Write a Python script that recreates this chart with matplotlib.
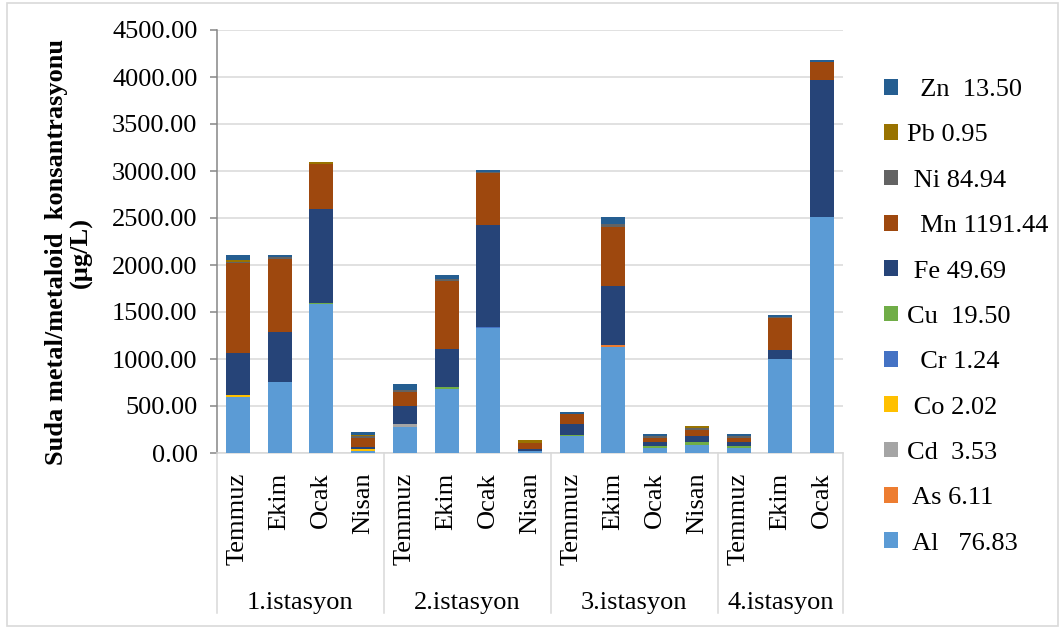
import matplotlib
matplotlib.use("Agg")
import matplotlib.pyplot as plt
import matplotlib.transforms as mtransforms
from matplotlib.patches import Rectangle, Patch
import numpy as np

# ---- data -------------------------------------------------------------
stations = ["1.istasyon", "2.istasyon", "3.istasyon", "4.istasyon"]
months = [
    ["Temmuz", "Ekim", "Ocak", "Nisan"],
    ["Temmuz", "Ekim", "Ocak", "Nisan"],
    ["Temmuz", "Ekim", "Ocak", "Nisan"],
    ["Temmuz", "Ekim", "Ocak"],
]

elements = ["Al", "As", "Cd", "Co", "Cr", "Cu", "Fe", "Mn", "Ni", "Pb", "Zn"]
legend_labels = [" Al   76.83", " As 6.11", "Cd  3.53", " Co 2.02", "  Cr 1.24",
                 "Cu  19.50", " Fe 49.69", "  Mn 1191.44", " Ni 84.94", "Pb 0.95",
                 "  Zn  13.50"]
colors = ["#5B9BD5", "#ED7D31", "#A5A5A5", "#FFC000", "#4472C4", "#70AD47",
          "#264478", "#9E480E", "#636363", "#997300", "#255E91"]

# concentrations (µg/L), one value per sampling (15 samplings)
Al = [599, 759, 1590, 20, 280, 678, 1327, 20, 180, 1124, 53, 88, 50, 1000, 2511]
As = [0, 0, 0, 0, 0, 0, 0, 0, 0, 20, 0, 0, 0, 0, 0]
Cd = [0, 0, 0, 5, 30, 0, 0, 5, 0, 0, 0, 0, 0, 0, 0]
Co = [20, 0, 0, 15, 0, 0, 0, 0, 0, 0, 0, 0, 0, 0, 0]
Cr = [0, 0, 0, 0, 0, 0, 15, 0, 0, 0, 0, 0, 0, 5, 0]
Cu = [0, 0, 5, 0, 0, 20, 0, 0, 15, 0, 25, 28, 25, 0, 0]
Fe = [442, 532, 1001, 22, 190, 405, 1084, 20, 110, 636, 39, 60, 40, 91, 1455]
Mn = [964, 770, 476, 100, 146, 727, 556, 65, 110, 628, 42, 64, 45, 344, 191]
Ni = [10, 20, 5, 20, 25, 20, 10, 0, 0, 25, 18, 25, 18, 10, 5]
Pb = [15, 5, 15, 5, 0, 0, 0, 28, 0, 0, 0, 25, 0, 0, 0]
Zn = [57, 21, 0, 40, 65, 44, 20, 0, 18, 81, 28, 0, 25, 16, 20]

series = [Al, As, Cd, Co, Cr, Cu, Fe, Mn, Ni, Pb, Zn]

# ---- figure -----------------------------------------------------------
W, H = 1063, 628
DPI = 100
SERIF = ["Liberation Serif", "DejaVu Serif"]
FS = 19
plt.rcParams["font.family"] = SERIF

fig = plt.figure(figsize=(W / DPI, H / DPI), dpi=DPI)

# axes box in pixel coordinates
ax_l, ax_r, ax_t, ax_b = 217, 843, 30, 453
ax = fig.add_axes([ax_l / W, 1 - ax_b / H, (ax_r - ax_l) / W, (ax_b - ax_t) / H])

month_labels = [m for grp in months for m in grp]
x = np.arange(len(month_labels))
bottom = np.zeros(len(x))
handles = []
for vals, col, lab in zip(series, colors, legend_labels):
    v = np.array(vals, dtype=float)
    ax.bar(x, v, width=0.575, bottom=bottom, color=col, linewidth=0,
           zorder=3, label=lab)
    bottom += v
    handles.append(Patch(facecolor=col, edgecolor="none", label=lab))

ax.set_xlim(-0.5, len(x) - 0.5)
ax.set_ylim(0, 4500)
ax.set_yticks(np.arange(0, 4501, 500))
ax.yaxis.set_major_formatter(matplotlib.ticker.FormatStrFormatter("%.2f"))
ax.grid(axis="y", color="#D9D9D9", linewidth=1.1, zorder=0)
ax.set_axisbelow(True)

for s in ["top", "right"]:
    ax.spines[s].set_visible(False)
ax.spines["left"].set_color("#868686")
ax.spines["left"].set_linewidth(1.1)
ax.spines["bottom"].set_color("#D9D9D9")
ax.spines["bottom"].set_linewidth(1.1)

ax.tick_params(axis="y", direction="out", length=5, width=1.1, color="#868686",
               labelsize=FS, pad=9, labelcolor="black")
ax.set_xticks(x)
ax.set_xticklabels(month_labels, rotation=90, fontsize=FS)
ax.tick_params(axis="x", length=0, pad=14)

# category group separators and station labels
trans = mtransforms.blended_transform_factory(ax.transData, ax.transAxes)
depth = -(613 - ax_b) / (ax_b - ax_t)
edges = [-0.5]
for grp in months:
    edges.append(edges[-1] + len(grp))
for e in edges:
    ax.plot([e, e], [0, depth], transform=trans, color="#D9D9D9", lw=1.1,
            clip_on=False, zorder=1)
lab_y = -(603 - ax_b) / (ax_b - ax_t)
for i, st in enumerate(stations):
    cx = (edges[i] + edges[i + 1]) / 2
    ax.text(cx, lab_y, st, transform=trans, ha="center", va="center", fontsize=FS)

# y-axis title
fig.text(69 / W, 1 - 252 / H, "Suda metal/metaloid  konsantrasyonu\n(µg/L)",
         rotation=90, ha="center", va="center", fontsize=FS, fontweight="bold",
         linespacing=1.1)

# legend, top entry first
leg = fig.legend(handles[::-1], [h.get_label() for h in handles[::-1]],
                 loc="upper left", bbox_to_anchor=(884 / W, 1 - 79 / H),
                 frameon=False, fontsize=FS, handlelength=0.53, handleheight=0.53,
                 handletextpad=0.34, labelspacing=0.88, borderpad=0,
                 borderaxespad=0)

# light outer frame
fig.patches.append(Rectangle((7 / W, 1 - 626 / H), (1058 - 7) / W, (626 - 3) / H,
                             transform=fig.transFigure, fill=False,
                             edgecolor="#D9D9D9", linewidth=1.2))

fig.savefig("out.png", dpi=DPI)
